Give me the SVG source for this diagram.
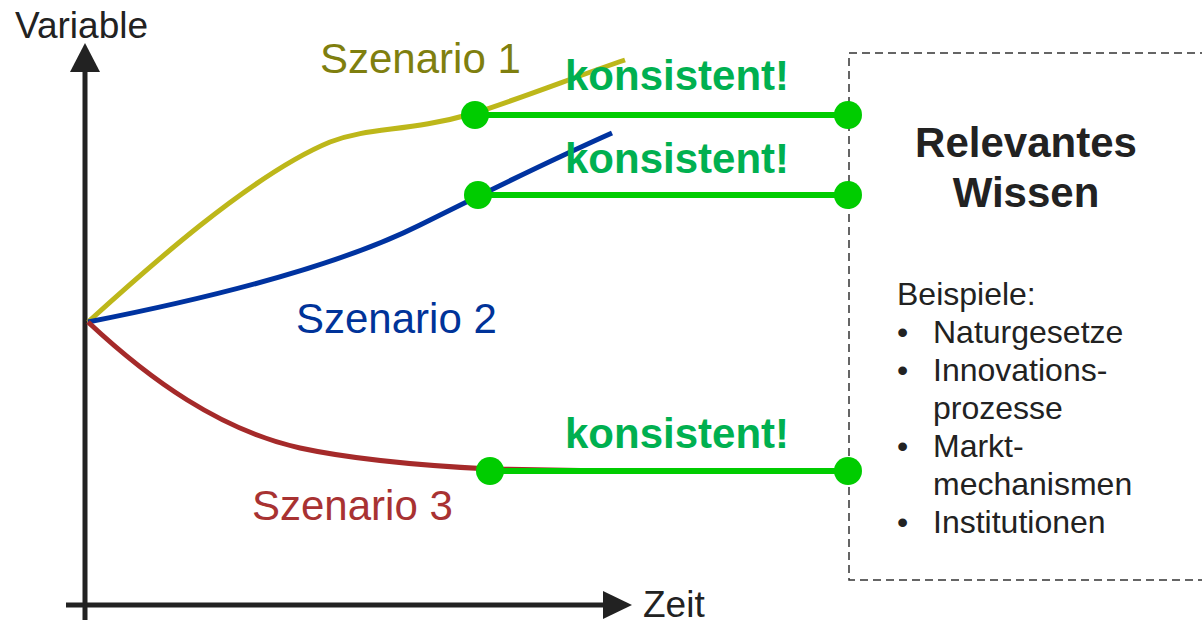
<svg xmlns="http://www.w3.org/2000/svg" width="1202" height="624" viewBox="0 0 1202 624">
  <style>
    text { font-family: "Liberation Sans", Arial, sans-serif; }
    .axis { stroke: #222; stroke-width: 5; fill: none; }
    .head { fill: #222; }
    .axlabel { font-size: 37px; fill: #222; }
    .curve { fill: none; stroke-width: 5; stroke-linecap: butt; }
    .scen { font-size: 42px; }
    .link { stroke: #00CC00; stroke-width: 6; }
    .dot { fill: #00CC00; }
    .ok { font-size: 42px; font-weight: bold; fill: #00B050; }
    .title { font-size: 42px; font-weight: bold; fill: #222; text-anchor: middle; }
    .list { font-size: 32px; fill: #222; }
  </style>

  <!-- axes -->
  <g id="axes">
    <line class="axis" x1="85" y1="620" x2="85" y2="70"/>
    <polygon class="head" points="70,72 85,43 100,72"/>
    <line class="axis" x1="66" y1="605" x2="605" y2="605"/>
    <polygon class="head" points="603,591 632,605 603,619"/>
    <text class="axlabel" x="15" y="38">Variable</text>
    <text class="axlabel" x="643" y="617">Zeit</text>
  </g>

  <!-- scenario trajectories -->
  <g id="scenario-1">
    <path class="curve" stroke="#BDB71A" d="M88,322 C140,275 250,175 330,142 C372,126 405,133 475,113 C530,95 580,75 625,60"/>
    <text class="scen" x="320" y="73" fill="#7F7F0F">Szenario 1</text>
  </g>
  <g id="scenario-2">
    <path class="curve" stroke="#0033A0" d="M88,322 C190,302 330,270 420,225 C470,200 540,165 612,133"/>
    <text class="scen" x="296" y="333" fill="#003399">Szenario 2</text>
  </g>
  <g id="scenario-3">
    <path class="curve" stroke="#A52A2A" d="M88,322 C150,380 220,430 300,448 C360,461 430,466 490,469 L610,471"/>
    <text class="scen" x="252" y="520" fill="#A83232">Szenario 3</text>
  </g>

  <!-- knowledge box -->
  <g id="knowledge">
    <rect x="849" y="53" width="370" height="527" fill="none" stroke="#333" stroke-width="1.5" stroke-dasharray="8,5"/>
    <text class="title" x="1026" y="157">Relevantes</text>
    <text class="title" x="1026" y="207">Wissen</text>
    <text class="list" x="897" y="305">Beispiele:</text>
    <g>
      <text class="list" x="897" y="343">•</text>
      <text class="list" x="933" y="343">Naturgesetze</text>
      <text class="list" x="897" y="381">•</text>
      <text class="list" x="933" y="381">Innovations-</text>
      <text class="list" x="933" y="419">prozesse</text>
      <text class="list" x="897" y="457">•</text>
      <text class="list" x="933" y="457">Markt-</text>
      <text class="list" x="933" y="495">mechanismen</text>
      <text class="list" x="897" y="533">•</text>
      <text class="list" x="933" y="533">Institutionen</text>
    </g>
  </g>

  <!-- consistency links -->
  <g id="connectors">
    <line class="link" x1="475" y1="115" x2="848" y2="115"/>
    <line class="link" x1="478" y1="195" x2="848" y2="195"/>
    <line class="link" x1="490" y1="471" x2="848" y2="471"/>
    <circle class="dot" cx="475" cy="115" r="14"/>
    <circle class="dot" cx="848" cy="115" r="14"/>
    <circle class="dot" cx="478" cy="195" r="14"/>
    <circle class="dot" cx="848" cy="195" r="14"/>
    <circle class="dot" cx="490" cy="471" r="14"/>
    <circle class="dot" cx="848" cy="471" r="14"/>
    <text class="ok" x="565" y="90">konsistent!</text>
    <text class="ok" x="565" y="173">konsistent!</text>
    <text class="ok" x="565" y="448">konsistent!</text>
  </g>
</svg>
